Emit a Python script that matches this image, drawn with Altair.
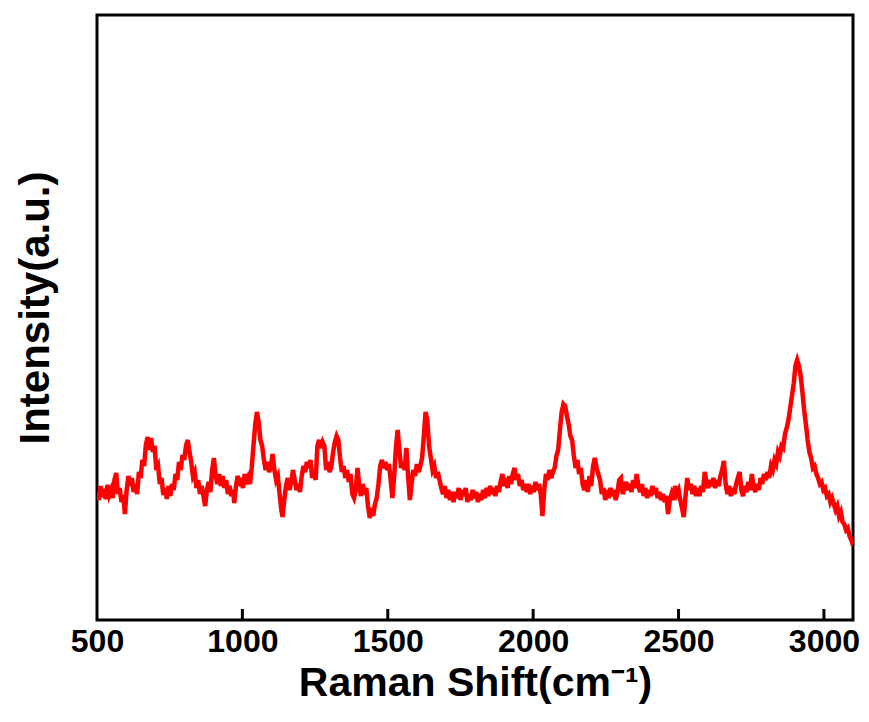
import altair as alt
import pandas as pd

# Raman spectrum (wavenumber cm-1, intensity a.u.)
seg_a = [(500,128),(506,120),(512,134),(518,123),(524,131),(530,121),(536,135),(542,125),(548,130),(554,122),
         (560,140),(566,147),(572,126),(578,132),(584,118),(590,125),(596,106),(602,130),(608,144),(614,134),
         (620,142),(626,128),(632,136),(638,126),(644,148),(650,142),(656,160),(662,154),(668,175),(674,183),
         (680,170),(686,182),(692,168),(698,174),(704,150),(710,154),(716,136),(722,142),(728,125),(734,132),
         (740,121),(746,134),(752,124),(758,136),(764,130),(770,146),(776,140),(782,158),(788,150),(794,165),
         (800,160),(806,174),(812,180),(818,168),(824,158),(830,144),(836,148),(842,132),(848,140),(854,126),
         (860,134),(866,124),(872,114),(878,130),(884,138),(890,128),(896,150),(902,162),(908,144),(914,136),
         (920,146),(926,134),(932,144),(938,132),(944,140),(950,126),(956,134),(962,124),(968,130),(972,117),
         (978,134),(984,144),(990,134),(996,142)]
seg_b = [(1002,132),(1008,146),(1014,136),(1020,142),(1026,136),(1032,152),(1038,174),(1044,195),(1050,208),(1056,198),
         (1062,180),(1068,174),(1074,160),(1080,150),(1086,158),(1092,148),(1098,154),(1104,166),(1110,150),(1116,140),
         (1122,144),(1128,126),(1134,110),(1138,103),(1144,120),(1150,134),(1156,142),(1162,130),(1168,138),(1174,150),
         (1180,140),(1186,130),(1192,136),(1198,128),(1204,144),(1210,154),(1216,148),(1222,158),(1228,152),(1234,160),
         (1240,142),(1246,150),(1252,140),(1258,174),(1264,180),(1270,172),(1276,178),(1282,174),(1288,150),(1294,158),
         (1300,148),(1306,154),(1312,168),(1318,178),(1324,184),(1330,180),(1336,162),(1342,148),(1348,154),(1354,142),
         (1360,150),(1366,138),(1372,146),(1378,126),(1384,122),(1390,130),(1396,152),(1402,134),(1408,124),(1414,136),
         (1420,126),(1426,132),(1432,114),(1438,102),(1444,112),(1450,104),(1456,116),(1462,122),(1468,136),(1474,154),
         (1480,160),(1486,152),(1492,158),(1498,150)]
seg_c = [(1504,156),(1510,140),(1516,122),(1522,144),(1528,172),(1534,190),(1540,170),(1546,152),(1552,158),(1558,150),
         (1564,172),(1570,144),(1576,120),(1582,136),(1588,150),(1594,144),(1600,156),(1606,148),(1612,154),(1618,162),
         (1624,184),(1630,208),(1636,200),(1642,174),(1648,162),(1654,150),(1660,154),(1666,142),(1672,148),(1678,140),
         (1684,132),(1690,126),(1696,134),(1702,122),(1708,130),(1714,120),(1720,128),(1726,118),(1732,128),(1738,122),
         (1744,132),(1750,120),(1756,130),(1762,124),(1768,132),(1774,118),(1780,126),(1786,120),(1792,130),(1798,122),
         (1804,128),(1810,118),(1816,126),(1822,120),(1828,130),(1834,122),(1840,132),(1846,124),(1852,134),(1858,126),
         (1864,132),(1870,124),(1876,134),(1882,128),(1888,138),(1894,146),(1900,134),(1906,142),(1912,132),(1918,144),
         (1924,136),(1930,146),(1936,152),(1942,140),(1948,146),(1954,134),(1960,140),(1966,130),(1972,136),(1978,128),
         (1984,136),(1990,126),(1996,134)]
seg_d = [(2002,128),(2008,138),(2014,130),(2020,136),(2026,126),(2032,104),(2038,130),(2044,146),(2050,140),(2056,150),
         (2062,142),(2068,148),(2074,152),(2080,164),(2086,170),(2092,190),(2098,208),(2104,216),(2110,214),(2116,204),
         (2122,196),(2128,184),(2134,180),(2140,164),(2146,152),(2152,160),(2158,146),(2164,152),(2170,136),(2176,130),
         (2182,140),(2188,128),(2194,144),(2200,134),(2206,154),(2212,162),(2218,152),(2224,146),(2230,140),(2236,126),
         (2242,132),(2248,120),(2254,130),(2260,122),(2266,132),(2272,124),(2278,130),(2284,120),(2290,128),(2296,140),
         (2302,142),(2308,126),(2314,132),(2320,138),(2326,130),(2332,136),(2338,128),(2344,140),(2350,132),(2356,146),
         (2362,134),(2368,128),(2374,136),(2380,124),(2386,132),(2392,122),(2398,130),(2404,124),(2410,134),(2416,126),
         (2422,132),(2428,122),(2434,128),(2440,120),(2446,126),(2452,118),(2458,124),(2464,106),(2470,120),(2476,126),
         (2482,120),(2488,134),(2494,126)]
seg_e = [(2500,130),(2506,120),(2512,112),(2518,103),(2524,124),(2530,142),(2536,130),(2542,136),(2548,126),(2554,134),
         (2560,124),(2566,132),(2572,124),(2578,134),(2584,128),(2590,148),(2596,138),(2602,132),(2608,140),(2614,134),
         (2620,142),(2626,132),(2632,140),(2638,134),(2644,144),(2650,150),(2656,159),(2662,136),(2668,126),(2674,134),
         (2680,124),(2686,132),(2692,126),(2698,136),(2704,142),(2710,148),(2716,130),(2722,124),(2728,134),(2734,128),
         (2740,138),(2746,130),(2752,146),(2758,134),(2764,128),(2770,136),(2776,130),(2782,142),(2788,136),(2794,146),
         (2800,140),(2806,148),(2812,142),(2818,154),(2824,150),(2830,160),(2836,156),(2842,168),(2848,164),(2854,174),
         (2860,172),(2866,186),(2872,192),(2878,200),(2884,212),(2890,224),(2896,236),(2902,254),(2908,260),(2914,254),
         (2920,244),(2926,228),(2932,210),(2938,196),(2944,180),(2950,168),(2956,162),(2962,152),(2968,154),(2974,146),
         (2980,142),(2986,136),(2992,138),(2998,130),(3004,132),(3010,124),(3016,126),(3022,118),(3028,122),(3034,116),
         (3040,110),(3046,114),(3052,104),(3058,108),(3064,98),(3070,96),(3076,90),(3082,92),(3088,84),(3094,80),
         (3100,75)]

x_ticks = [1000, 1500, 2000, 2500, 3000]
x_labels = [500, 1000, 1500, 2000, 2500, 3000]

pts = seg_a + seg_b + seg_c + seg_d + seg_e
df = pd.DataFrame(pts, columns=["shift", "intensity"])
df_ticks = pd.DataFrame({"t": x_ticks})

FONT = "Liberation Sans"
W, H = 756, 605

xscale = alt.Scale(domain=[500, 3100], nice=False, zero=False)
yscale = alt.Scale(domain=[0, 605], nice=False, zero=False)

line = alt.Chart(df).mark_line(color="#FF0000", strokeWidth=4.5, clip=True).encode(
    x=alt.X("shift:Q", scale=xscale,
            axis=alt.Axis(title="Raman Shift(cm⁻¹)", values=x_labels, format="d", ticks=False,
                          domain=False, grid=False, labelFont=FONT, labelFontSize=32,
                          labelFontWeight="bold", labelColor="black", labelPadding=6,
                          labelFlush=False, titleFont=FONT, titleFontSize=41,
                          titleFontWeight="bold", titleColor="black", titlePadding=6)),
    y=alt.Y("intensity:Q", scale=yscale,
            axis=alt.Axis(title="Intensity(a.u.)", labels=False, ticks=False, domain=False,
                          grid=False, titleFont=FONT, titleFontSize=42, titleFontWeight="bold",
                          titleColor="black", titlePadding=40, titleY=H / 2 - 10)),
)

ticks = alt.Chart(df_ticks).mark_rule(color="black", strokeWidth=3).encode(
    x=alt.X("t:Q", scale=xscale),
    y=alt.value(H),
    y2=alt.value(H - 11),
)

chart = alt.layer(line, ticks).properties(
    width=W, height=H,
    background="white",
    autosize=alt.AutoSizeParams(type="none"),
    padding={"left": 89, "top": 7, "right": 8, "bottom": 94},
).configure_view(stroke="black", strokeWidth=3)

chart.save("out.html", embed_options={"renderer": "svg", "actions": False})
